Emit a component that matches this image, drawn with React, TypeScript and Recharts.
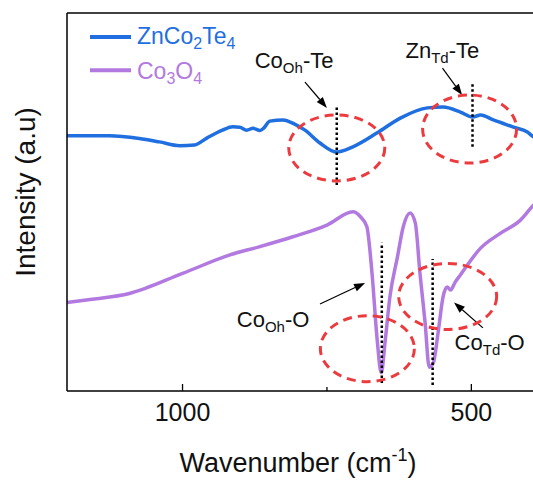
import { LineChart, Line, XAxis, YAxis, ReferenceLine, ReferenceDot, Label } from 'recharts';

const BLUE = '#1f6fe0';
const PURPLE = '#b27ae0';
const RED = '#ec3b3f';
const FONT = "Arial, 'Liberation Sans', Helvetica, sans-serif";

// ZnCo2Te4 spectrum
const znWavenumber = [1200, 1161, 1127, 1075, 1040, 1005, 979, 958, 931, 913, 901, 889, 878, 866, 859, 849, 826, 806, 788, 762, 733, 705, 663, 623, 576, 549, 519, 498, 484, 462, 427, 403, 392, 372];
const znIntensity = [67.5, 67.5, 67.5, 66.8, 65.9, 64.9, 65.1, 66.9, 69.0, 69.9, 69.8, 69.0, 69.5, 68.9, 69.6, 71.4, 71.7, 70.6, 69.0, 65.6, 63.2, 64.6, 68.3, 72.2, 74.9, 75.1, 73.8, 72.5, 73.0, 71.7, 69.8, 68.5, 67.2, 66.4];

// Co3O4 spectrum
const coWavenumber = [1200, 1160, 1092, 1000, 918, 866, 809, 750, 705, 692, 681, 672, 663, 656, 649, 641, 628, 618, 606, 597, 589, 580, 573, 566, 557, 549, 542, 536, 528, 519, 484, 450, 415, 392, 372];
const coIntensity = [23.4, 24.2, 25.8, 31.1, 36.0, 38.2, 40.8, 43.9, 47.4, 46.1, 43.5, 31.2, 13.5, 4.8, 13.5, 24.9, 35.4, 43.4, 47.1, 44.4, 31.2, 18.0, 6.3, 7.4, 16.1, 24.9, 27.5, 26.7, 28.8, 30.7, 37.8, 41.7, 45.2, 49.2, 51.5];

const xTicks = [1000, 750, 500];

// band markers (dotted lines): wavenumber, y from, y to
const bandX = [733, 498, 655, 567];
const bandFrom = [54.5, 64.6, 2.1, 1.6];
const bandTo = [75.1, 81.5, 39.2, 34.9];

// dashed circles: centre in data units, radii in px
const circleX = [733, 503, 680, 541];
const circleY = [64.3, 69.3, 11.2, 25.0];
const circleRx = [48, 47, 47, 49];
const circleRy = [33, 34, 33, 33];

// arrows: tail -> head
const arrowFrom = [[788, 81.7], [550, 85.4], [762, 23.0], [480, 16.7]];
const arrowTo = [[750, 74.9], [516, 78.3], [684, 28.6], [530, 23.4]];

// labels: main, subscript, suffix, anchor
const labelMain = ['Co', 'Zn', 'Co', 'Co'];
const labelSub = ['Oh', 'Td', 'Oh', 'Td'];
const labelTail = ['-Te', '-Te', '-O', '-O'];
const labelX = [875, 614, 906, 529];
const labelY = [85.4, 88.1, 16.9, 10.8];

const znData = znWavenumber.map((w, i) => ({ w, v: znIntensity[i] }));
const coData = coWavenumber.map((w, i) => ({ w, v: coIntensity[i] }));

const WaveTick = (props: any) => {
  const { x, y, payload } = props;
  const major = payload.value % 500 === 0;
  return (
    <g>
      <line x1={x} x2={x} y1={y} y2={y - (major ? 7 : 4)} stroke="#000" strokeWidth={1.3} />
      {major && (
        <text x={x} y={y + 30} textAnchor="middle" fontSize={25} fontFamily={FONT} fill="#111">
          {payload.value}
        </text>
      )}
    </g>
  );
};

const renderArrow = (props: any) => {
  const { x1, y1, x2, y2 } = props;
  const a = Math.atan2(y2 - y1, x2 - x1);
  const len = 11, half = 4;
  const bx = x2 - len * Math.cos(a), by = y2 - len * Math.sin(a);
  const pts = `${x2},${y2} ${bx + half * Math.sin(a)},${by - half * Math.cos(a)} ${bx - half * Math.sin(a)},${by + half * Math.cos(a)}`;
  return (
    <g>
      <line x1={x1} y1={y1} x2={bx} y2={by} stroke="#000" strokeWidth={1.2} />
      <polygon points={pts} fill="#000" />
    </g>
  );
};

const SeriesLegend = () => (
  <svg width={200} height={74} style={{ position: 'absolute', left: 90, top: 18.7, fontFamily: FONT }}>
    <line x1={0} x2={41} y1={18} y2={18} stroke={BLUE} strokeWidth={4} />
    <text x={47} y={24.6} fontSize={23} fill={BLUE}>
      ZnCo<tspan fontSize={16} dy={5}>2</tspan><tspan dy={-5}>Te</tspan><tspan fontSize={16} dy={5}>4</tspan>
    </text>
    <line x1={0} x2={41} y1={51.3} y2={51.3} stroke={PURPLE} strokeWidth={4} />
    <text x={47} y={59.6} fontSize={23} fill={PURPLE}>
      Co<tspan fontSize={16} dy={5}>3</tspan><tspan dy={-5}>O</tspan><tspan fontSize={16} dy={5}>4</tspan>
    </text>
  </svg>
);

export default function App() {
  return (
    <div style={{ position: 'fixed', left: 0, top: 0, width: 533, height: 480, overflow: 'hidden', background: '#fff' }}>
      <LineChart width={558} height={480} margin={{ top: 13, right: 0, bottom: 0, left: 66 }}>
        <XAxis
          type="number"
          dataKey="w"
          domain={[350, 1200]}
          reversed
          ticks={xTicks}
          tick={<WaveTick />}
          tickSize={0}
          tickMargin={0}
          tickLine={false}
          height={89}
          axisLine={{ stroke: '#000', strokeWidth: 1.5 }}
          allowDataOverflow
        >
          <Label
            content={(p: any) => (
              <text x={p.viewBox.x + 231} y={p.viewBox.y + 80.7} textAnchor="middle" fontSize={27} fontFamily={FONT} fill="#111">
                Wavenumber (cm<tspan fontSize={18} dy={-11}>-1</tspan><tspan dy={11}>)</tspan>
              </text>
            )}
          />
        </XAxis>
        <YAxis
          type="number"
          domain={[0, 100]}
          width={1}
          tick={false}
          tickLine={false}
          axisLine={{ stroke: '#000', strokeWidth: 1.5 }}
        >
          <Label
            content={(p: any) => {
              const x = 35;
              const y = p.viewBox.y + 179;
              return (
                <text x={x} y={y} transform={`rotate(-90, ${x}, ${y})`} textAnchor="middle" fontSize={28} fontFamily={FONT} fill="#111">
                  Intensity (a.u)
                </text>
              );
            }}
          />
        </YAxis>
        <ReferenceLine y={100} stroke="#000" strokeWidth={1.5} />

        <Line data={znData} dataKey="v" type="monotone" stroke={BLUE} strokeWidth={3.5} dot={false} isAnimationActive={false} />
        <Line data={coData} dataKey="v" type="monotone" stroke={PURPLE} strokeWidth={3.5} dot={false} isAnimationActive={false} />

        {bandX.map((x, i) => (
          <ReferenceLine key={`band-${i}`} segment={[{ x, y: bandFrom[i] }, { x, y: bandTo[i] }]}
            stroke="#000" strokeWidth={2.5} strokeDasharray="2.5 2.5" />
        ))}
        {circleX.map((x, i) => (
          <ReferenceDot key={`circ-${i}`} x={x} y={circleY[i]} r={1}
            shape={(p: any) => (
              <ellipse cx={p.cx} cy={p.cy} rx={circleRx[i]} ry={circleRy[i]} fill="none" stroke={RED} strokeWidth={3} strokeDasharray="9 6" />
            )} />
        ))}
        {arrowFrom.map((f, i) => (
          <ReferenceLine key={`arrow-${i}`} segment={[{ x: f[0], y: f[1] }, { x: arrowTo[i][0], y: arrowTo[i][1] }]}
            shape={renderArrow} />
        ))}
        {labelMain.map((m, i) => (
          <ReferenceDot key={`lab-${i}`} x={labelX[i]} y={labelY[i]} r={1}
            shape={(p: any) => (
              <text x={p.cx} y={p.cy} fontSize={22} fontFamily={FONT} fill="#111">
                {m}<tspan fontSize={15} dy={5}>{labelSub[i]}</tspan><tspan dy={-5}>{labelTail[i]}</tspan>
              </text>
            )} />
        ))}
      </LineChart>
      <SeriesLegend />
    </div>
  );
}
